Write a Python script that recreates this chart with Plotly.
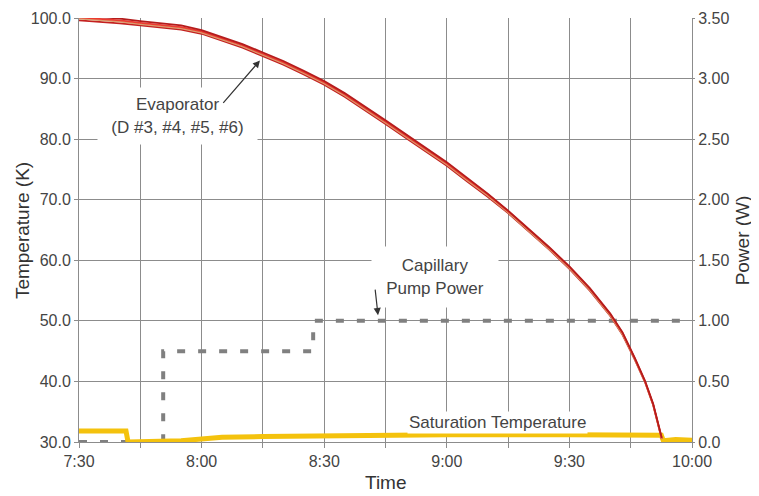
import plotly.graph_objects as go

DAY = "2024-01-01 "

# Evaporator diodes (K)
evap_times = ["07:30", "07:35", "07:40", "07:45", "07:50", "07:55", "08:00", "08:05", "08:10",
              "08:15", "08:20", "08:25", "08:30", "08:35", "08:40", "08:45", "08:50", "08:55",
              "09:00", "09:05", "09:10", "09:15", "09:20", "09:25", "09:30", "09:35", "09:40",
              "09:43", "09:46", "09:48:30", "09:50:30", "09:52:36"]
evap_d3 = [100.4, 100.2, 99.9, 99.5, 99.2, 98.8, 98.0, 96.9, 95.7, 94.3, 92.9, 91.3, 89.6, 87.6,
           85.4, 83.1, 80.8, 78.5, 76.2, 73.6, 71.0, 68.2, 65.2, 62.2, 59.0, 55.4, 51.2, 48.1,
           43.9, 40.1, 36.3, 30.7]
evap_d4 = [100.1, 99.9, 99.6, 99.2, 98.9, 98.5, 97.8, 96.7, 95.5, 94.1, 92.7, 91.1, 89.4, 87.4,
           85.2, 82.9, 80.6, 78.3, 76.0, 73.4, 70.9, 68.1, 65.1, 62.1, 58.9, 55.3, 51.1, 48.0,
           43.8, 40.0, 36.2, 30.6]
evap_d5 = [99.9, 99.7, 99.4, 99.0, 98.7, 98.3, 97.6, 96.5, 95.3, 93.9, 92.5, 90.9, 89.2, 87.2,
           85.0, 82.7, 80.4, 78.1, 75.8, 73.2, 70.7, 67.9, 64.9, 61.9, 58.7, 55.1, 50.9, 47.8,
           43.7, 39.9, 36.1, 30.5]
evap_d6 = [99.6, 99.4, 99.1, 98.8, 98.5, 98.1, 97.4, 96.3, 95.1, 93.7, 92.3, 90.7, 89.0, 87.0,
           84.8, 82.5, 80.2, 77.9, 75.6, 73.0, 70.5, 67.8, 64.8, 61.8, 58.6, 55.0, 50.8, 47.7,
           43.6, 39.9, 36.1, 30.5]

# Saturation temperature (K)
sat_times = ["07:30", "07:41:30", "07:42", "07:50", "07:55", "08:00", "08:05", "08:15", "08:25",
             "08:30", "09:00", "09:30", "09:50", "09:52:30", "09:53", "09:56", "10:00"]
sat_temp = [31.8, 31.8, 30.0, 30.0, 30.2, 30.5, 30.8, 30.9, 31.0, 31.1, 31.2, 31.2, 31.2, 31.1,
            30.2, 30.4, 30.3]

# Capillary pump power (W)
pump_times = ["07:30", "07:50:36", "08:27:18", "10:00"]
pump_power = [0.0, 0.75, 1.0, 1.0]

# Axis ticks
x_tick_times = ["07:30", "07:45", "08:00", "08:15", "08:30", "08:45", "09:00", "09:15", "09:30",
                "09:45", "10:00"]
x_tick_text = ["7:30", "", "8:00", "", "8:30", "", "9:00", "", "9:30", "", "10:00"]
temp_ticks = [30, 40, 50, 60, 70, 80, 90, 100]
temp_tick_text = ["30.0", "40.0", "50.0", "60.0", "70.0", "80.0", "90.0", "100.0"]
power_ticks = [0, 0.5, 1.0, 1.5, 2.0, 2.5, 3.0, 3.5]
power_tick_text = ["0.0", "0.50", "1.00", "1.50", "2.00", "2.50", "3.00", "3.50"]

def ts(lst):
    return [DAY + t for t in lst]

FONT = "Arial, Liberation Sans, sans-serif"
TXT = "#444444"
TTL = "#333333"
GRID = "#8c8c8c"

fig = go.Figure()

fig.add_trace(go.Scatter(x=ts(pump_times), y=pump_power, yaxis="y", mode="lines",
                         line=dict(color="#808080", width=4, dash="8px,13px", shape="hv"),
                         name="Capillary Pump Power", showlegend=False))

fig.add_trace(go.Scatter(x=ts(sat_times), y=sat_temp, yaxis="y2", mode="lines",
                         line=dict(color="#f4c20d", width=5),
                         name="Saturation Temperature", showlegend=False))

for name, vals, col in [("D #6", evap_d6, "#c42020"), ("D #5", evap_d5, "#d9a070"),
                        ("D #4", evap_d4, "#ec3b30"), ("D #3", evap_d3, "#b51c1c")]:
    fig.add_trace(go.Scatter(x=ts(evap_times), y=vals, yaxis="y2", mode="lines",
                             line=dict(color=col, width=1.8), name=name, showlegend=False))

annots = [
    dict(x=DAY + "07:54:13", y=83.9, xref="x", yref="y2", text="Evaporator<br>(D #3, #4, #5, #6)",
         showarrow=False, bgcolor="white", width=157, height=54,
         font=dict(family=FONT, size=17, color=TXT)),
    dict(x=DAY + "08:14:17", y=93.0, xref="x", yref="y2", text="", showarrow=True,
         ax=-38, ay=44, arrowhead=2, arrowsize=1.2, arrowwidth=1.2, arrowcolor="#333333"),
    dict(x=DAY + "08:57:06", y=57.3, xref="x", yref="y2", text="Capillary<br>Pump Power",
         showarrow=False, bgcolor="white", width=124, height=58,
         font=dict(family=FONT, size=17, color=TXT)),
    dict(x=DAY + "08:43:10", y=1.047, xref="x", yref="y", text="", showarrow=True,
         ax=-3, ay=-27, arrowhead=2, arrowsize=1.2, arrowwidth=1.2, arrowcolor="#333333"),
    dict(x=DAY + "09:12:17", y=33.3, xref="x", yref="y2", text="Saturation Temperature",
         showarrow=False, bgcolor="white", borderpad=1,
         font=dict(family=FONT, size=17, color=TXT)),
    # axis titles
    dict(x=-0.093, y=0.4997, xref="paper", yref="paper", text="Temperature (K)", textangle=-90,
         showarrow=False, xanchor="center", yanchor="middle",
         font=dict(family=FONT, size=19, color=TTL)),
    dict(x=1.0816, y=0.4756, xref="paper", yref="paper", text="Power (W)", textangle=-90,
         showarrow=False, xanchor="center", yanchor="middle",
         font=dict(family=FONT, size=19, color=TTL)),
    dict(x=0.5, y=-0.123, xref="paper", yref="paper", text="Time",
         showarrow=False, xanchor="center", yanchor="bottom", borderpad=0,
         font=dict(family=FONT, size=19, color=TTL)),
]

# The page body adds an 8px offset, so the figure is 8px smaller and margins shifted.
fig.update_layout(
    width=751, height=488,
    margin=dict(l=71, r=67, t=10, b=54, autoexpand=False),
    paper_bgcolor="white", plot_bgcolor="white",
    font=dict(family=FONT, size=16, color=TXT),
    showlegend=False,
    annotations=annots,
    xaxis=dict(
        type="date", range=[DAY + "07:30", DAY + "10:00"], automargin=False,
        tickmode="array", tickvals=ts(x_tick_times), ticktext=x_tick_text,
        showgrid=True, gridcolor=GRID, gridwidth=1,
        ticks="outside", ticklen=5, tickcolor=GRID,
        showline=True, linecolor=GRID, linewidth=1,
        zeroline=False,
        tickfont=dict(size=16, color=TXT),
    ),
    yaxis=dict(
        side="right", range=[0, 3.5], automargin=False,
        tickmode="array", tickvals=power_ticks, ticktext=power_tick_text,
        showgrid=True, gridcolor=GRID, gridwidth=1,
        ticks="outside", ticklen=2, tickcolor=GRID,
        showline=True, linecolor=GRID, linewidth=1, zeroline=False,
        tickfont=dict(size=16, color=TXT),
    ),
    yaxis2=dict(
        side="left", overlaying="y", range=[30, 100], automargin=False,
        tickmode="array", tickvals=temp_ticks, ticktext=temp_tick_text,
        showgrid=False,
        ticks="outside", ticklen=4, tickcolor=GRID,
        showline=True, linecolor=GRID, linewidth=1, zeroline=False,
        tickfont=dict(size=16, color=TXT),
    ),
)

fig.write_html("out.html")
